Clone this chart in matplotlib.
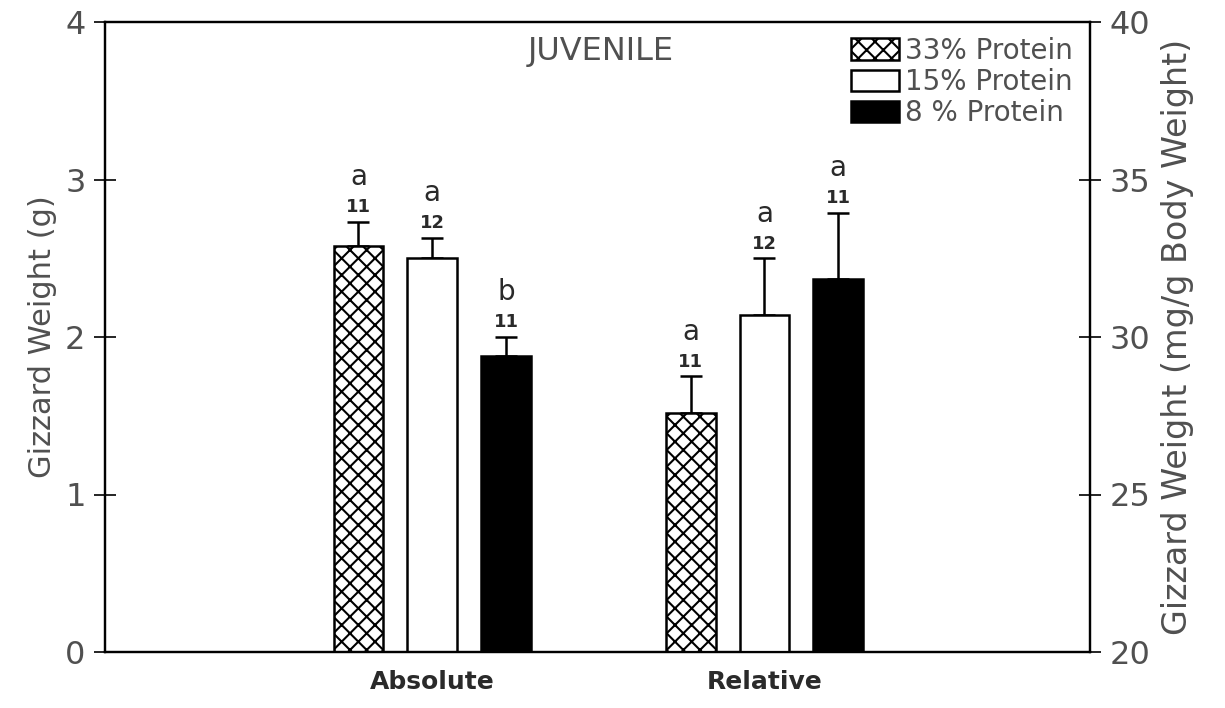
import matplotlib
matplotlib.use('Agg')
import matplotlib.pyplot as plt
import numpy as np

# gizzard weight, juvenile birds on three protein diets
diets = ["33% Protein", "15% Protein", "8 % Protein"]
groups = ["Absolute", "Relative"]
absolute_mean = [2.58, 2.50, 1.88]      # g
absolute_se = [0.15, 0.13, 0.12]
relative_mean = [27.6, 30.7, 31.85]     # mg/g body weight
relative_se = [1.15, 1.8, 2.1]
n_birds = ["11", "12", "11"]
letters_abs = ["a", "a", "b"]
letters_rel = ["a", "a", "a"]

plt.rcParams['font.family'] = 'DejaVu Sans'
plt.rcParams['hatch.linewidth'] = 1.5
gray = '#505050'
dark = '#2a2a2a'

fig = plt.figure(figsize=(12.25, 7.08), dpi=100)
ax = fig.add_axes([105/1225, 56/708, 985/1225, 630/708])
ax2 = ax.twinx()

faces = ['white', 'white', 'black']
hatches = ['xx', None, None]
width = 0.15
offsets = [-0.222, 0.0, 0.222]
x = np.arange(len(groups))

for i in range(3):
    xa = x[0] + offsets[i]
    xr = x[1] + offsets[i]
    ax.bar(xa, absolute_mean[i], width, color=faces[i], edgecolor='black',
           linewidth=1.8, hatch=hatches[i], label=diets[i], zorder=2)
    ax.errorbar(xa, absolute_mean[i], yerr=[[0], [absolute_se[i]]], fmt='none',
                ecolor='black', elinewidth=1.8, capsize=8, capthick=1.8, zorder=1)
    ax2.bar(xr, relative_mean[i] - 20, width, bottom=20, color=faces[i],
            edgecolor='black', linewidth=1.8, hatch=hatches[i], zorder=2)
    ax2.errorbar(xr, relative_mean[i], yerr=[[0], [relative_se[i]]], fmt='none',
                 ecolor='black', elinewidth=1.8, capsize=8, capthick=1.8, zorder=1)

    top = absolute_mean[i] + absolute_se[i]
    ax.annotate(n_birds[i], (xa, top), xytext=(0, 4), textcoords='offset points',
                ha='center', va='bottom', fontsize=13, fontweight='bold', color=dark)
    ax.annotate(letters_abs[i], (xa, top), xytext=(0, 22), textcoords='offset points',
                ha='center', va='bottom', fontsize=20, color=dark)
    top = relative_mean[i] + relative_se[i]
    ax2.annotate(n_birds[i], (xr, top), xytext=(0, 4), textcoords='offset points',
                 ha='center', va='bottom', fontsize=13, fontweight='bold', color=dark)
    ax2.annotate(letters_rel[i], (xr, top), xytext=(0, 22), textcoords='offset points',
                 ha='center', va='bottom', fontsize=20, color=dark)

ax.set_xlim(-0.985, 1.98)
ax.set_ylim(0, 4)
ax2.set_ylim(20, 40)
ax.set_yticks([0, 1, 2, 3, 4])
ax2.set_yticks([20, 25, 30, 35, 40])
ax.set_xticks(x)
ax.set_xticklabels(groups, fontsize=18, color=dark, fontweight='semibold')
ax.tick_params(axis='x', length=0, pad=13)
ax.tick_params(axis='y', direction='inout', length=16, width=1.2,
               labelsize=23, labelcolor=gray, pad=6)
ax2.tick_params(axis='y', direction='inout', length=16, width=1.2,
                labelsize=23, labelcolor=gray, pad=6)
for a in (ax, ax2):
    for s in a.spines.values():
        s.set_linewidth(1.6)

ax.set_ylabel("Gizzard Weight (g)", fontsize=22, color=gray, labelpad=6)
ax2.set_ylabel("Gizzard Weight (mg/g Body Weight)", fontsize=24, color=gray, labelpad=8)
ax.text(0.503, 0.978, "JUVENILE", transform=ax.transAxes, ha='center', va='top',
        fontsize=23, color=gray)
ax.legend(loc='upper right', bbox_to_anchor=(1.0, 1.003), frameon=False,
          fontsize=20, handlelength=1.7, handleheight=0.8, handletextpad=0.25,
          labelspacing=0.12, labelcolor=gray, borderaxespad=0.2)

fig.savefig("out.png", dpi=100, facecolor='white')
